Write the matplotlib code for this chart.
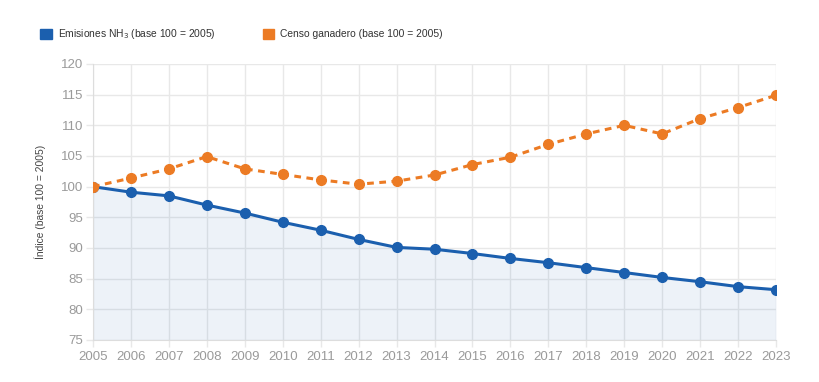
import matplotlib.pyplot as plt
from matplotlib.patches import Patch

plt.rcParams['font.family'] = ['Liberation Sans', 'DejaVu Sans']

years = list(range(2005, 2024))
emisiones_nh3 = [100.0, 99.1, 98.5, 97.0, 95.7, 94.2, 92.9, 91.4, 90.1, 89.8,
                 89.1, 88.3, 87.6, 86.8, 86.0, 85.2, 84.5, 83.7, 83.2]
censo_ganadero = [100.0, 101.4, 102.9, 104.9, 102.9, 102.0, 101.1, 100.4, 100.9, 101.9,
                  103.6, 104.8, 106.9, 108.6, 110.0, 108.6, 111.1, 112.9, 114.9]

blue = '#1b5fae'
orange = '#ec7b24'
grid_c = '#e8e8e8'
tick_c = '#9a9a9a'

fig = plt.figure(figsize=(8.2, 3.82), dpi=100)
ax = fig.add_axes([93 / 820, 1 - 340 / 382, (776 - 93) / 820, (340 - 64) / 382])

ax.fill_between(years, emisiones_nh3, 75, color=blue, alpha=0.08, linewidth=0)
ax.plot(years, emisiones_nh3, color=blue, lw=2.2, marker='o', ms=7, zorder=3)
ax.plot(years, censo_ganadero, color=orange, lw=2.2, ls=(0, (2.2, 1.8)),
        marker='o', ms=7, zorder=3)

ax.set_xlim(2005, 2023)
ax.set_ylim(75, 120)
ax.set_xticks(years)
ax.set_yticks(range(75, 121, 5))
ax.grid(True, color=grid_c, lw=1)
ax.set_axisbelow(True)
for s in ['top', 'right']:
    ax.spines[s].set_visible(False)
for s in ['left', 'bottom']:
    ax.spines[s].set_color('#dddddd')
ax.tick_params(colors=grid_c, labelcolor=tick_c, labelsize=9.5, length=5, width=1)
ax.tick_params(axis='x', pad=3)
ax.tick_params(axis='y', pad=2)

ax.set_ylabel('Índice (base 100 = 2005)', fontsize=7.4, color='#444444', labelpad=11)

handles = [Patch(facecolor=blue, edgecolor=blue),
           Patch(facecolor=orange, edgecolor=orange)]
labels = ['Emisiones NH$_3$ (base 100 = 2005)', 'Censo ganadero (base 100 = 2005)']
fig.legend(handles, labels, loc='center left', bbox_to_anchor=(0.038, 0.91), ncol=2,
           frameon=False, fontsize=7.4, handlelength=1.1, handleheight=1.1,
           handletextpad=0.6, columnspacing=4.6, labelcolor='#333333')

fig.savefig('out.png', dpi=100)
